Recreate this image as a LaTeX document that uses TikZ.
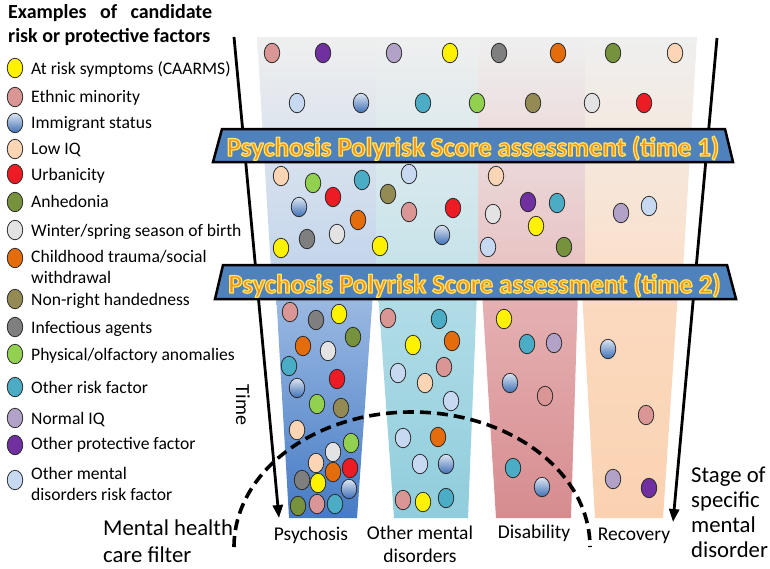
\documentclass[tikz,border=0pt]{standalone}
\usepackage{fontspec}
\setmainfont{Carlito}
\usetikzlibrary{shapes.geometric,arrows.meta,shadings}
\definecolor{cY}{HTML}{FFF200}
\definecolor{cE}{HTML}{D99694}
\definecolor{cL}{HTML}{FCD5B4}
\definecolor{cU}{HTML}{ED1C24}
\definecolor{cA}{HTML}{76923C}
\definecolor{cW}{HTML}{E3E3E3}
\definecolor{cC}{HTML}{E46C0A}
\definecolor{cN}{HTML}{948A54}
\definecolor{cF}{HTML}{7F7F7F}
\definecolor{cP}{HTML}{92D050}
\definecolor{cO}{HTML}{4BACC6}
\definecolor{cQ}{HTML}{B3A2C7}
\definecolor{cR}{HTML}{7030A0}
\definecolor{cM}{HTML}{C6D9F1}
\definecolor{cIt}{HTML}{DCE6F2}
\definecolor{cIb}{HTML}{3F6FB5}
\definecolor{cTop}{HTML}{EFEFEF}
\definecolor{bBan}{HTML}{4F81BD}
\definecolor{bFill}{HTML}{F7901E}
% column tints
\definecolor{aOne}{HTML}{D6E2F1}\definecolor{bOne}{HTML}{C3D5EC}
\definecolor{aTwo}{HTML}{DCECF0}\definecolor{bTwo}{HTML}{C5E3EA}
\definecolor{aThr}{HTML}{EEDADA}\definecolor{bThr}{HTML}{E8C2C3}
\definecolor{aFou}{HTML}{F6EADF}\definecolor{bFou}{HTML}{FBE0CB}
\definecolor{lOnet}{HTML}{9DBBE3}\definecolor{lOneb}{HTML}{467BC5}
\definecolor{lTwot}{HTML}{B2DDE7}\definecolor{lTwob}{HTML}{90CDDC}
\definecolor{lThrt}{HTML}{E6B2B4}\definecolor{lThrb}{HTML}{D68C8F}
\definecolor{lFout}{HTML}{FBDAC0}\definecolor{lFoub}{HTML}{FAD2B1}
\tikzset{
 dot/.style={ellipse, draw=black!85, line width=0.75pt, minimum width=15.5pt, minimum height=19.5pt, inner sep=0pt},
 dotI/.style={dot, top color=cIt, bottom color=cIb},
 legtxt/.style={anchor=base west, inner sep=0pt, font=\fontsize{17.6}{21}\selectfont},
 ttl/.style={anchor=base west, inner sep=0pt, font=\bfseries\fontsize{20}{24}\selectfont},
 coltxt/.style={anchor=base, inner sep=0pt, font=\fontsize{19.5}{22}\selectfont},
 bigtxt/.style={anchor=base west, inner sep=0pt, font=\fontsize{22.7}{26}\selectfont},
 funnel/.style={line width=2.8pt, -{Triangle[length=13pt,width=10pt]}},
 banner/.style={draw=black, line width=2.5pt, fill=bBan, line join=miter},
 btxt/.style={anchor=base, inner sep=0pt, font=\bfseries\fontsize{26.8}{30}\selectfont},
 filter/.style={line width=3.6pt, dash pattern=on 11pt off 6pt},
}
% banner text: orange fill with a yellow stroked rim (PDF text render mode 2)
\newcommand{\bannertext}[3]{%
 \node[btxt] (#1) at (#2) {\color{bFill}\special{pdf:literal direct 1 0.894 0.361 RG 1.3 w 1 j 2 Tr}#3\special{pdf:literal direct 0 Tr}};}
\begin{document}
\begin{tikzpicture}[x=1pt,y=-1pt]
\useasboundingbox (0,0) rectangle (770,568);
% ---------- upper column band (above banner 2) ----------
\path[top color=cTop, middle color=aOne, bottom color=bOne] (257,37) -- (376,37) -- (376,270) -- (271,270) -- cycle;
\path[top color=cTop, middle color=aTwo, bottom color=bTwo] (376,37) -- (478,37) -- (478,270) -- (376,270) -- cycle;
\path[top color=cTop, middle color=aThr, bottom color=bThr] (478,37) -- (585,37) -- (585,270) -- (478,270) -- cycle;
\path[top color=cTop, middle color=aFou, bottom color=bFou] (585,37) -- (697,37) -- (683,270) -- (585,270) -- cycle;
% ---------- lower columns ----------
\path[top color=lOnet, bottom color=lOneb] (276,292) -- (373,292) -- (357,518) -- (289,518) -- cycle;
\path[top color=lTwot, bottom color=lTwob] (378,292) -- (477,292) -- (468,518) -- (394,518) -- cycle;
\path[top color=lThrt, bottom color=lThrb] (482,292) -- (578,292) -- (571,518) -- (496,518) -- cycle;
\path[top color=lFout, bottom color=lFoub] (582,292) -- (678,292) -- (663,518) -- (595,518) -- cycle;
% ---------- funnel lines ----------
\coordinate (L1) at (234,37); \coordinate (L2) at (279,518);
\coordinate (R1) at (717,38); \coordinate (R2) at (673,522);
\draw[funnel] (L1) -- (L2);
\draw[funnel] (R1) -- (R2);
% ---------- banners ----------
\draw[banner] (222,129) -- (725,129) -- (733,162) -- (213,162) -- cycle;
\draw[banner] (223,265) -- (727,265) -- (736,299) -- (215,299) -- cycle;
\coordinate (bt1) at (473,156);
\coordinate (bt2) at (474.5,293);
\bannertext{bannerA}{bt1}{Psychosis Polyrisk Score assessment (time 1)}
\bannertext{bannerB}{bt2}{Psychosis Polyrisk Score assessment (time 2)}
% ---------- mental health care filter ----------
\coordinate (fl) at (234,547);
\draw[filter] (fl) arc[start angle=180, end angle=360, x radius=178, y radius=135];
% ---------- dots ----------
\foreach \x/\y/\c [count=\n] in {
 272/53/E, 323/53/R, 394/53/Q, 450/53/Y, 499/53/F, 558/53/C, 613/53/A, 675/53/L,
 297/103/M, 423/103/O, 477/103/P, 533/103/N, 592/103/W, 644/103/U,
 281/176/L, 313/183/P, 333/197/U, 362/180/O, 409/174/M, 388/194/N, 358/220/C, 409/212/E,
 453/208/U, 496/176/L, 493/214/W, 528/202/R, 557/203/O, 536/226/Y, 621/213/Q, 649/206/M,
 281/248/Y, 307/239/F, 337/234/W, 380/246/Y, 488/247/M, 564/247/A,
 290/312/E, 316/320/F, 339/314/Y, 353/337/A, 303/346/C, 328/351/W, 289/366/O, 337/379/U,
 317/404/P, 341/408/N, 297/430/L, 351/443/P, 333/452/W, 316/463/L, 350/468/U, 333/472/C,
 302/480/F, 318/483/Y, 298/506/A, 317/504/E, 335/504/O,
 388/318/E, 439/319/O, 413/345/Y, 452/341/C, 398/373/M, 444/367/E, 425/383/L, 451/401/M,
 403/438/M, 438/437/C, 420/464/M, 403/500/E, 423/502/Y, 446/498/O,
 504/319/Y, 527/344/O, 554/343/Q, 545/396/E, 513/468/O,
 646/415/E, 613/479/Q, 649/488/R}
 \node[dot, fill=c\c] (dot\n) at (\x,\y) {};
\foreach \x/\y [count=\n] in {361/103, 299/207, 442/235, 297/388, 349/489, 446/464, 510/383, 542/487, 608/349}
 \node[dotI] (imm\n) at (\x,\y) {};
% ---------- legend ----------
\node[ttl] (title1) at (8,18) {\makebox[204pt][l]{Examples\hfill of\hfill candidate}};
\node[ttl] (title2) at (8,42) {risk or protective factors};
\node[dot, fill=cY] (lgY) at (15,68) {};   \node[legtxt] (ltY) at (31,74) {At risk symptoms (CAARMS)};
\node[dot, fill=cE] (lgE) at (15,97) {};   \node[legtxt] (ltE) at (31,102) {Ethnic minority};
\node[dotI]         (lgI) at (15,123) {};  \node[legtxt] (ltI) at (31,128) {Immigrant status};
\node[dot, fill=cL] (lgL) at (15,149) {};  \node[legtxt] (ltL) at (31,154) {Low IQ};
\node[dot, fill=cU] (lgU) at (15,174) {};  \node[legtxt] (ltU) at (31,180) {Urbanicity};
\node[dot, fill=cA] (lgA) at (15,202) {};  \node[legtxt] (ltA) at (31,207) {Anhedonia};
\node[dot, fill=cW] (lgW) at (15,230) {};  \node[legtxt] (ltW) at (31,236) {Winter/spring season of birth};
\node[dot, fill=cC] (lgC) at (15,258) {};  \node[legtxt] (ltC) at (31,262) {Childhood trauma/social};
                                            \node[legtxt] (ltC2) at (31,283) {withdrawal};
\node[dot, fill=cN] (lgN) at (15,299) {};  \node[legtxt] (ltN) at (31,305) {Non-right handedness};
\node[dot, fill=cF] (lgF) at (15,327) {};  \node[legtxt] (ltF) at (31,333) {Infectious agents};
\node[dot, fill=cP] (lgP) at (15,354) {};  \node[legtxt] (ltP) at (31,360) {Physical/olfactory anomalies};
\node[dot, fill=cO] (lgO) at (15,387) {};  \node[legtxt] (ltO) at (31,393) {Other risk factor};
\node[dot, fill=cQ] (lgQ) at (15,418) {};  \node[legtxt] (ltQ) at (31,424) {Normal IQ};
\node[dot, fill=cR] (lgR) at (15,445) {};  \node[legtxt] (ltR) at (31,449) {Other protective factor};
\node[dot, fill=cM] (lgM) at (15,480) {};  \node[legtxt] (ltM) at (31,479) {Other mental};
                                            \node[legtxt] (ltM2) at (31,500) {disorders risk factor};
% ---------- labels ----------
\node[rotate=-90, inner sep=0pt, font=\fontsize{20}{24}\selectfont] (time) at (243,405) {Time};
\node[bigtxt] (mh1) at (103,535) {Mental health};
\node[bigtxt] (mh2) at (103,562) {care filter};
\node[coltxt] (c1) at (311,540) {Psychosis};
\node[coltxt] (c2) at (420,539) {Other mental};
\node[coltxt] (c2b) at (420,562) {disorders};
\node[coltxt] (c3) at (534,538) {Disability};
\node[coltxt] (c4) at (634,540) {Recovery};
\node[bigtxt] (s1) at (691,482) {Stage of};
\node[bigtxt] (s2) at (691,507) {specific};
\node[bigtxt] (s3) at (691,532) {mental};
\node[bigtxt] (s4) at (691,557) {disorder};
\end{tikzpicture}
\end{document}
